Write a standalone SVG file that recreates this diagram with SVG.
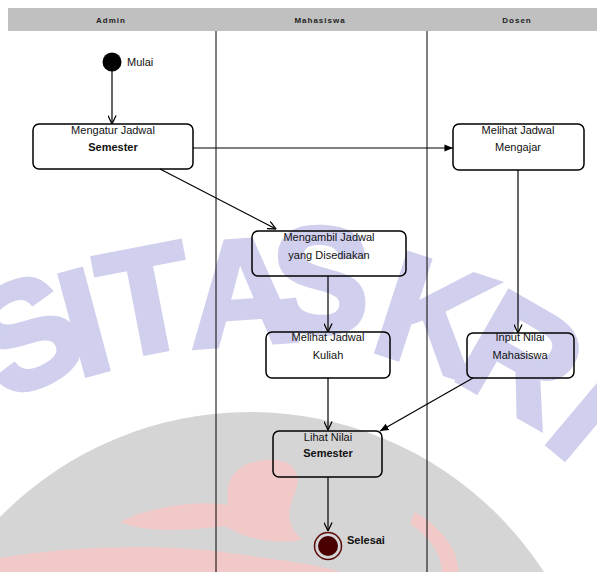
<svg xmlns="http://www.w3.org/2000/svg" width="597" height="572" viewBox="0 0 597 572">
<defs>
<marker id="v" viewBox="0 0 10 10" refX="9.5" refY="5" markerWidth="9" markerHeight="9" orient="auto" markerUnits="userSpaceOnUse">
<path d="M0,0.5 L9.5,5 L0,9.5" fill="none" stroke="#000" stroke-width="1.4"/>
</marker>
<marker id="f" viewBox="0 0 10 10" refX="9.5" refY="5" markerWidth="9" markerHeight="9" orient="auto" markerUnits="userSpaceOnUse">
<path d="M0,1 L9.5,5 L0,9 Z" fill="#000"/>
</marker>
</defs>
<style>
.lbl{font-family:"Liberation Sans",Arial,sans-serif;font-size:11px;fill:#111;text-anchor:middle}
.hdr{font-family:"Liberation Sans",Arial,sans-serif;font-size:8px;font-weight:bold;fill:#222;text-anchor:middle;letter-spacing:1px}
.box{fill:none;stroke:#000;stroke-width:1.5}
.con{fill:none;stroke:#000;stroke-width:1.2}
.lane{stroke:#000;stroke-width:1}
.wm{font-family:"Liberation Sans",Arial,sans-serif;font-size:150px;font-weight:bold;fill:#d0d0ee;stroke:#d0d0ee;stroke-width:5;text-anchor:middle;dominant-baseline:central}
.pk{fill:#f1c9c9}
</style>
<rect width="597" height="572" fill="#fff"/>
<g id="watermark">
<circle cx="250" cy="762" r="350" fill="#d5d5d5"/>
<path class="pk" d="M0,572 L0,558 C70,546 160,543 230,553 C280,560 320,565 340,572 Z"/>
<path class="pk" d="M120,522 C150,506 200,500 228,505 C224,480 236,462 265,460 C292,458 302,472 296,490 C290,506 282,520 302,540 C270,546 240,536 225,526 C190,530 150,534 120,522 Z"/>
<path class="pk" d="M415,512 C442,528 460,552 458,572 L442,572 C441,554 430,536 410,524 Z"/>
<text class="wm" transform="translate(26,334) rotate(-28)">S</text>
<text class="wm" transform="translate(84,322) rotate(-15)">I</text>
<text class="wm" transform="translate(146,300) rotate(-11)">T</text>
<text class="wm" transform="translate(242,292) rotate(-4)">A</text>
<text class="wm" transform="translate(320,280) rotate(3)">S</text>
<text class="wm" transform="translate(435,316) rotate(18)">K</text>
<text class="wm" transform="translate(522,358) rotate(30)">R</text>
<text class="wm" transform="translate(590,412) rotate(40)">I</text>
</g>
<g id="lanes">
<rect x="8" y="8" width="589" height="23" fill="#c0c0c0"/>
<text class="hdr" x="111" y="23">Admin</text>
<text class="hdr" x="320" y="23">Mahasiswa</text>
<text class="hdr" x="517" y="23">Dosen</text>
<line class="lane" x1="216" y1="31" x2="216" y2="572"/>
<line class="lane" x1="427" y1="31" x2="427" y2="572"/>
</g>
<g id="connectors">
<line class="con" x1="112" y1="71" x2="112" y2="124" marker-end="url(#v)"/>
<line class="con" x1="193" y1="148" x2="453" y2="148" marker-end="url(#f)"/>
<line class="con" x1="160" y1="169" x2="276" y2="229" stroke-width="1.6" marker-end="url(#v)"/>
<line class="con" x1="518" y1="170" x2="518" y2="333" marker-end="url(#v)"/>
<line class="con" x1="328" y1="276" x2="328" y2="332" marker-end="url(#v)"/>
<line class="con" x1="328" y1="378" x2="328" y2="430" marker-end="url(#v)"/>
<line class="con" x1="473" y1="378" x2="380" y2="431" stroke-width="1.6" marker-end="url(#f)"/>
<line class="con" x1="328" y1="477" x2="328" y2="531" marker-end="url(#v)"/>
</g>
<g id="start">
<circle cx="112" cy="62" r="9.5" fill="#000"/>
<text class="lbl" x="127" y="66" style="text-anchor:start">Mulai</text>
</g>
<g id="mengatur">
<rect class="box" x="33" y="124" width="160" height="45" rx="6"/>
<text class="lbl" x="113" y="134">Mengatur Jadwal</text>
<text class="lbl" x="113" y="151" font-weight="bold">Semester</text>
</g>
<g id="melihat-mengajar">
<rect class="box" x="453" y="124" width="131" height="46" rx="6"/>
<text class="lbl" x="518" y="134">Melihat Jadwal</text>
<text class="lbl" x="518" y="151">Mengajar</text>
</g>
<g id="mengambil">
<rect class="box" x="252" y="231" width="154" height="45" rx="6"/>
<text class="lbl" x="329" y="241">Mengambil Jadwal</text>
<text class="lbl" x="329" y="259">yang Disediakan</text>
</g>
<g id="melihat-kuliah">
<rect class="box" x="266" y="332" width="124" height="46" rx="6"/>
<text class="lbl" x="328" y="341">Melihat Jadwal</text>
<text class="lbl" x="328" y="359">Kuliah</text>
</g>
<g id="input-nilai">
<rect class="box" x="467" y="333" width="107" height="45" rx="6"/>
<text class="lbl" x="520" y="341">Input Nilai</text>
<text class="lbl" x="520" y="359">Mahasiswa</text>
</g>
<g id="lihat-nilai">
<rect class="box" x="273" y="431" width="109" height="46" rx="6"/>
<text class="lbl" x="328" y="441">Lihat Nilai</text>
<text class="lbl" x="328" y="457" font-weight="bold">Semester</text>
</g>
<g id="end">
<circle cx="328" cy="546" r="13.5" fill="none" stroke="#5a0808" stroke-width="1.5"/>
<circle cx="328" cy="546" r="10" fill="#4a0000"/>
<text class="lbl" x="347" y="544" style="text-anchor:start" font-weight="bold">Selesai</text>
</g>
</svg>
